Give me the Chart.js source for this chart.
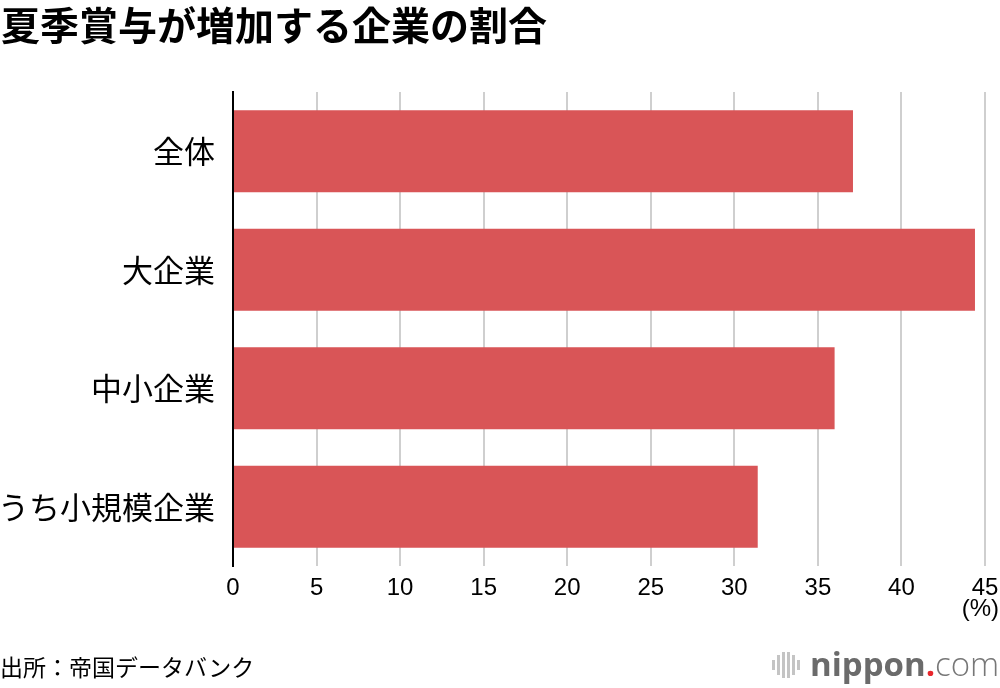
<!DOCTYPE html>
<html>
<head>
<meta charset="utf-8">
<script src="https://cdn.jsdelivr.net/npm/chart.js@4/dist/chart.umd.min.js"></script>
<style>
  html, body { margin:0; padding:0; background:#fff; }
  #wrap { position:relative; width:1000px; height:688px; overflow:hidden; }
  canvas { position:absolute; left:0; top:0; }
  .t { position:absolute; white-space:nowrap; }
  #title { left:1px; top:4px; font:bold 39px/39px "Noto Sans CJK JP", sans-serif; color:#000; }
  #source { left:0px; top:655px; font:23px/23px "Noto Sans CJK JP", sans-serif; color:#000; }
  #unit { right:1px; top:596px; font:24px/24px "Liberation Sans", Arial, sans-serif; color:#000; }
  #logo { left:770px; top:644px; height:40px; }
  #logo .ic { position:absolute; top:9px; width:3px; background:#c4c4c4; }
  #logo .txt { position:absolute; left:40px; top:0; font:bold 33px/40px "Open Sans", sans-serif; color:#6b6b6b; letter-spacing:0px; }
  #logo .dot { color:#e8262c; }
  #logo .com { font-weight:300; color:#777; }
</style>
</head>
<body>
<div id="wrap">
  <canvas id="c" width="1000" height="688"></canvas>
  <div class="t" id="title">夏季賞与が増加する企業の割合</div>
  <div class="t" id="source">出所：帝国データバンク</div>
  <div class="t" id="unit">(%)</div>
  <div class="t" id="logo">
    <div class="ic" style="left:2px;top:16px;height:10px"></div>
    <div class="ic" style="left:7px;top:11px;height:20px"></div>
    <div class="ic" style="left:12px;top:8px;height:26px"></div>
    <div class="ic" style="left:17px;top:8px;height:26px"></div>
    <div class="ic" style="left:22px;top:11px;height:20px"></div>
    <div class="ic" style="left:27px;top:16px;height:10px"></div>
    <div class="txt">nippon<span class="dot">.</span><span class="com">com</span></div>
  </div>
</div>
<script>
const categories = ['全体', '大企業', '中小企業', 'うち小規模企業'];
const values = [37.1, 44.4, 36.0, 31.4];
const xTickValues = [0, 5, 10, 15, 20, 25, 30, 35, 40, 45];

new Chart(document.getElementById('c'), {
  type: 'bar',
  data: {
    labels: categories,
    datasets: [{
      data: values,
      backgroundColor: '#d95557',
      borderWidth: 0,
      barPercentage: 0.692,
      categoryPercentage: 1.0
    }]
  },
  options: {
    indexAxis: 'y',
    responsive: false,
    animation: false,
    devicePixelRatio: 1,
    layout: { padding: { top: 92, right: 15, bottom: 72, left: 0 } },
    plugins: { legend: { display: false }, tooltip: { enabled: false } },
    scales: {
      x: {
        min: 0, max: 45,
        afterBuildTicks: (s) => { s.ticks = xTickValues.map(v => ({ value: v })); },
        ticks: {
          color: '#000',
          font: { family: 'Liberation Sans', size: 24 },
          padding: 8,
          maxRotation: 0
        },
        grid: {
          color: (ctx) => (ctx.tick && ctx.tick.value === 0) ? 'rgba(0,0,0,0)' : '#cfcfcf',
          lineWidth: 2,
          drawTicks: false
        },
        border: { display: false },
        afterFit: (s) => { s.height = 50; s.paddingRight = 0; s.paddingLeft = 0; }
      },
      y: {
        ticks: {
          color: '#000',
          font: { family: 'Noto Sans CJK JP', size: 31 },
          padding: 18
        },
        grid: { display: false, drawTicks: false },
        border: { display: true, color: '#000', width: 2 },
        afterFit: (s) => { s.width = 233; s.paddingTop = 0; s.paddingBottom = 0; }
      }
    }
  }
});
</script>
</body>
</html>
